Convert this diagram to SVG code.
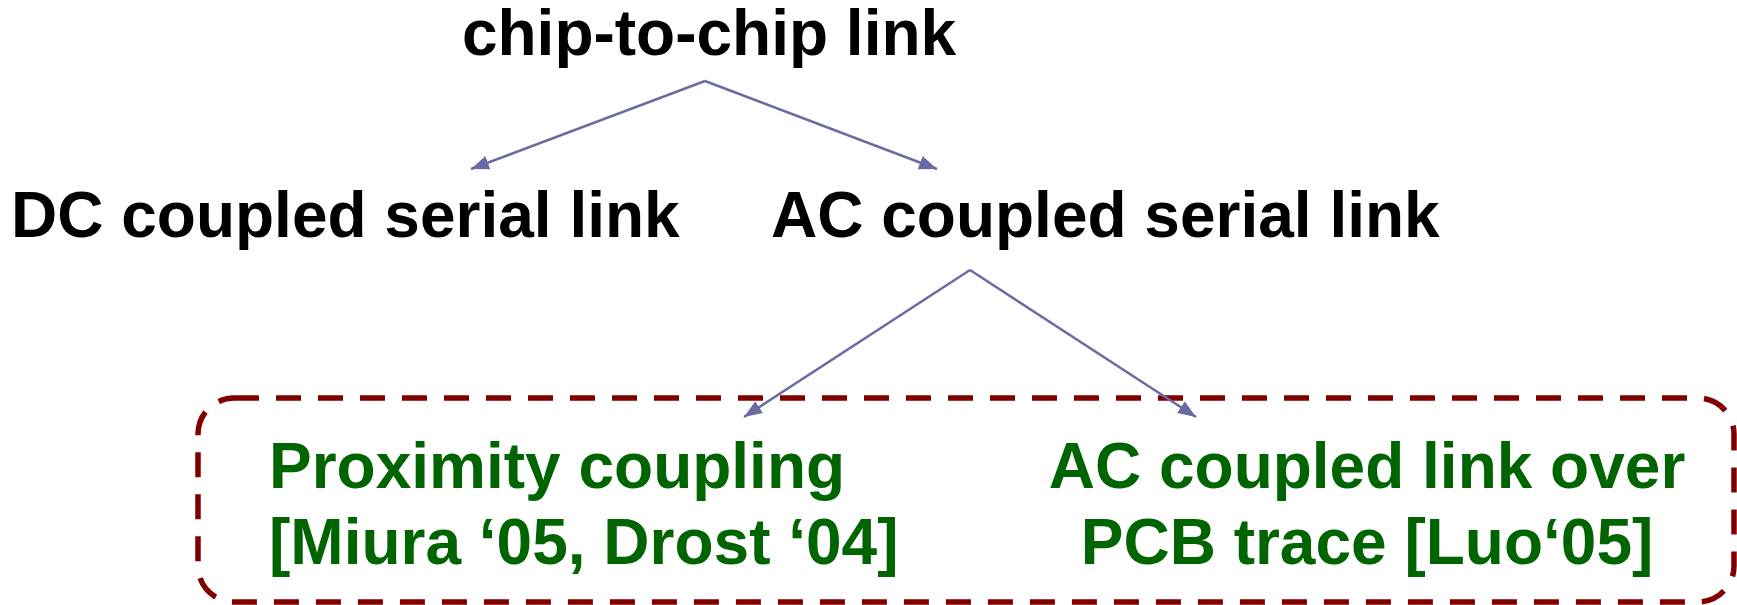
<svg xmlns="http://www.w3.org/2000/svg" width="1737" height="605" viewBox="0 0 1737 605">
<style>
.blk{font-family:"Liberation Sans",Arial,sans-serif;font-weight:bold;font-size:64px;fill:#000}
.grn{font-family:"Liberation Sans",Arial,sans-serif;font-weight:bold;font-size:64px;fill:#006400}
.conn{stroke:#6B6BA3;stroke-width:2.5;fill:none;marker-end:url(#ah)}
</style>
<defs>
<marker id="ah" markerUnits="userSpaceOnUse" markerWidth="20" markerHeight="16" refX="18" refY="7" orient="auto" viewBox="0 0 20 14">
<path d="M0,0 L18,7 L0,14 Z" fill="#6B6BA3"/>
</marker>
</defs>
<rect id="group-box" x="198" y="398" width="1536" height="204" rx="36" ry="36" fill="none" stroke="#800000" stroke-width="5.5" stroke-dasharray="25 17"/>
<g id="connectors">
<line class="conn" x1="705" y1="81" x2="471" y2="169"/>
<line class="conn" x1="705" y1="81" x2="937" y2="169"/>
<line class="conn" x1="970" y1="270" x2="744" y2="417"/>
<line class="conn" x1="970" y1="270" x2="1196" y2="417"/>
</g>
<g id="n-chip"><text class="blk" x="709" y="55" text-anchor="middle">chip-to-chip link</text></g>
<g id="n-dc"><text class="blk" x="11" y="237">DC coupled serial link</text></g>
<g id="n-ac"><text class="blk" x="771" y="237">AC coupled serial link</text></g>
<g id="n-prox"><text class="grn" x="269" y="488">Proximity coupling</text><text class="grn" x="269" y="564">[Miura ‘05, Drost ‘04]</text></g>
<g id="n-pcb"><text class="grn" x="1367" y="488" text-anchor="middle">AC coupled link over</text><text class="grn" x="1367" y="564" text-anchor="middle">PCB trace [Luo‘05]</text></g>
</svg>
